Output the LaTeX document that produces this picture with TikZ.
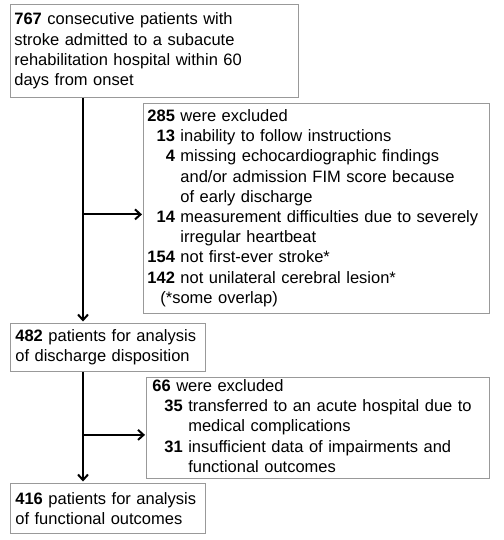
\documentclass[tikz,border=0pt]{standalone}
\usepackage{fontspec}
\setmainfont{Liberation Sans}
\usetikzlibrary{arrows.meta}
\begin{document}
\begin{tikzpicture}[x=1pt,y=-1pt,
  box/.style={draw=black!40, line width=0.8pt, anchor=north west, inner ysep=0pt, align=left,
    font=\fontsize{16.5}{20.2}\selectfont},
  arr/.style={line width=2pt, -{Straight Barb[length=5.5pt,width=10pt]}}
]
\useasboundingbox (0,0) rectangle (503,540);
\fill[white] (0,0) rectangle (503,540);
\node[box, inner xsep=4pt, text width=280pt, minimum height=93pt] (b767) at (10,4)
  {\textbf{767} consecutive patients with\\stroke admitted to a subacute\\rehabilitation hospital within 60\\days from onset};
\node[box, inner xsep=4pt, text width=338pt, minimum height=210pt] (b285) at (143,103)
  {\begin{tabular}{@{}r@{\ }l@{}}
   \textbf{285} & were excluded\\
   \textbf{13} & inability to follow instructions\\
   \textbf{4} & missing echocardiographic findings\\
    & and/or admission FIM score because\\
    & of early discharge\\
   \textbf{14} & measurement difficulties due to severely\\
    & irregular heartbeat\\
   \textbf{154} & not first-ever stroke*\\
   \textbf{142} & not unilateral cerebral lesion*\\
   \multicolumn{2}{@{}l@{}}{\hspace{13pt}(*some overlap)}
   \end{tabular}};
\node[box, inner xsep=5pt, text width=185pt, minimum height=48pt] (b482) at (10,323)
  {\textbf{482} patients for analysis\\of discharge disposition};
\node[box, inner xsep=6pt, text width=331pt, minimum height=98pt] (b66) at (146,377)
  {\begin{tabular}{@{\hspace{12pt}}r@{\ }l@{}}
   \multicolumn{2}{@{}l@{}}{\textbf{66} were excluded}\\
   \textbf{35} & transferred to an acute hospital due to\\
    & medical complications\\
   \textbf{31} & insufficient data of impairments and\\
    & functional outcomes
   \end{tabular}};
\node[box, inner xsep=5pt, text width=185pt, minimum height=50pt] (b416) at (10,483)
  {\textbf{416} patients for analysis\\of functional outcomes};
\coordinate (sp) at (83,0);
\coordinate (t1) at ([yshift=-6pt]b285.west);
\coordinate (t2) at ([yshift=-7pt]b66.west);
\draw[arr, shorten >=1.5pt] (b767.south -| sp) -- (b482.north -| sp);
\draw[arr, shorten >=1pt] (t1 -| sp) -- (t1);
\draw[arr, shorten >=1.5pt] (b482.south -| sp) -- (b416.north -| sp);
\draw[arr, shorten >=1pt] (t2 -| sp) -- (t2);
\end{tikzpicture}
\end{document}
